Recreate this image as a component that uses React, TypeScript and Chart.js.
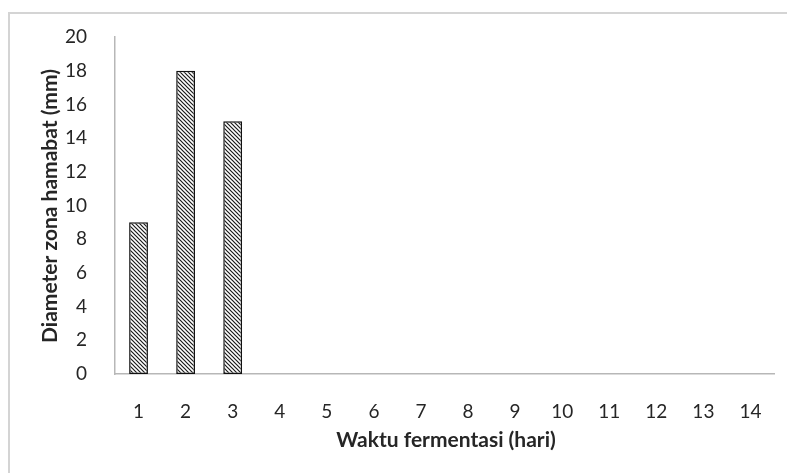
import React, { useEffect, useRef } from "react";
import { Chart, registerables } from "chart.js";

Chart.register(...registerables);

const categories = ["1", "2", "3", "4", "5", "6", "7", "8", "9", "10", "11", "12", "13", "14"];
const diameterValues: (number | null)[] = [9, 18, 15, null, null, null, null, null, null, null, null, null, null, null];
const yTitle = "Diameter zona hamabat (mm)";
const xTitle = "Waktu fermentasi (hari)";

const FONT = "Lato, 'Open Sans', 'Liberation Sans', sans-serif";
const TEXT = "#262626";
const AXIS = "#b7b7b7";

function makeHatch(): CanvasPattern | string {
  const c = document.createElement("canvas");
  c.width = 4;
  c.height = 4;
  const g = c.getContext("2d");
  if (!g) return "#888";
  g.fillStyle = "#ffffff";
  g.fillRect(0, 0, 4, 4);
  g.strokeStyle = "#1a1a1a";
  g.lineWidth = 1.2;
  g.beginPath();
  g.moveTo(-1, -1);
  g.lineTo(5, 5);
  g.moveTo(-1, 3);
  g.lineTo(1, 5);
  g.moveTo(3, -1);
  g.lineTo(5, 1);
  g.stroke();
  const p = g.createPattern(c, "repeat");
  return p || "#888";
}

const framePlugin = {
  id: "frame",
  beforeDraw(chart: any) {
    const ctx = chart.ctx;
    ctx.save();
    ctx.strokeStyle = "#d4d4d4";
    ctx.lineWidth = 2;
    ctx.beginPath();
    ctx.moveTo(9, 473);
    ctx.lineTo(9, 13);
    ctx.lineTo(787, 13);
    ctx.stroke();
    ctx.restore();
  },
  afterDraw(chart: any) {
    const ctx = chart.ctx;
    ctx.save();
    ctx.fillStyle = TEXT;
    ctx.font = `bold 21px ${FONT}`;
    ctx.textAlign = "center";
    ctx.textBaseline = "middle";
    ctx.fillText(xTitle, 446, 440);
    ctx.translate(50, 206);
    ctx.rotate(-Math.PI / 2);
    ctx.fillText(yTitle, 0, 0);
    ctx.restore();
  },
};

export default function App() {
  const ref = useRef<HTMLCanvasElement | null>(null);
  useEffect(() => {
    if (!ref.current) return;
    const chart = new Chart(ref.current, {
      type: "bar",
      data: {
        labels: categories,
        datasets: [
          {
            label: "Diameter",
            data: diameterValues,
            backgroundColor: makeHatch() as any,
            borderColor: "#111111",
            borderWidth: 1.5,
            borderSkipped: false,
            barPercentage: 0.4,
            categoryPercentage: 1,
          },
        ],
      },
      options: {
        responsive: false,
        animation: false,
        devicePixelRatio: 1,
        layout: { padding: { left: 0, top: 37, right: 13, bottom: 0 } },
        plugins: { legend: { display: false }, tooltip: { enabled: false } },
        scales: {
          x: {
            grid: { display: false },
            border: { color: AXIS, width: 1.5 },
            ticks: { color: TEXT, font: { family: FONT, size: 19 }, padding: 18, maxRotation: 0 },
            afterFit: (s: any) => {
              s.height = 99;
            },
          },
          y: {
            min: 0,
            max: 20,
            grid: { display: false },
            border: { color: AXIS, width: 1.5 },
            ticks: { stepSize: 2, color: TEXT, font: { family: FONT, size: 19 }, padding: 20 },
            afterFit: (s: any) => {
              s.width = 115;
            },
          },
        },
      },
      plugins: [framePlugin],
    });
    return () => chart.destroy();
  }, []);
  return (
    <div style={{ position: "absolute", left: 0, top: 0, width: 787, height: 473, background: "#fff" }}>
      <canvas ref={ref} width={787} height={473} style={{ display: "block" }} />
    </div>
  );
}
